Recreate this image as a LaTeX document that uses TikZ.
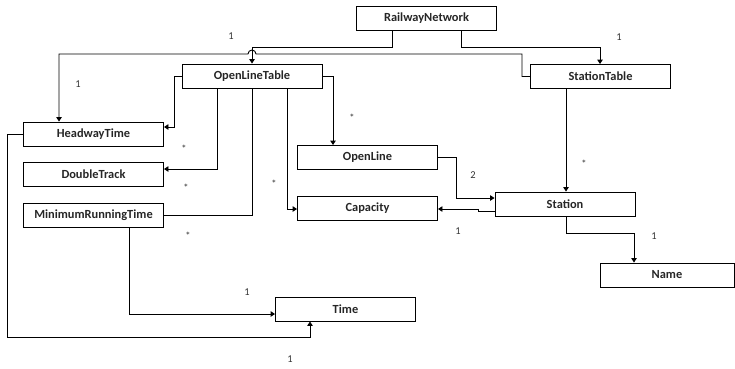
\documentclass[tikz,border=0pt]{standalone}
\usepackage{fontspec}
\setmainfont{Carlito}
\usetikzlibrary{arrows.meta}
\begin{document}
\begin{tikzpicture}[x=1pt,y=-1pt,
  box/.style={draw=black,line width=0.9pt,rectangle,inner sep=0pt,
    minimum width=140pt,minimum height=24pt,
    font=\fontsize{12.4}{14}\selectfont\bfseries,text=black!85},
  arr/.style={draw=black,line width=0.9pt,-{Triangle[length=4.5pt,width=5.5pt]}},
  con/.style={draw=black,line width=0.9pt},
  mult/.style={font=\fontsize{10.5}{12}\selectfont,text=black!80,inner sep=0pt}]
\useasboundingbox (0,0) rectangle (735,368);

% classes
\node[box] (rn)  at (426.5,18)  {RailwayNetwork};
\node[box] (olt) at (252,76)    {OpenLineTable};
\node[box] (st)  at (600.5,76.5){StationTable};
\node[box] (ht)  at (93.5,134)  {HeadwayTime};
\node[box] (dt)  at (93.5,174.5){DoubleTrack};
\node[box] (mrt) at (93.5,215)  {MinimumRunningTime};
\node[box] (ol)  at (367.5,157.5){OpenLine};
\node[box] (cap) at (367.5,208.5){Capacity};
\node[box] (sta) at (565,204)   {Station};
\node[box,minimum width=134pt] (nm) at (667,275) {Name};
\node[box] (tm)  at (345.5,309) {Time};

% associations
\draw[arr] (392,0 |- rn.south) -- (392,47) -- (252,47) -- (252,0 |- olt.north);
\draw[arr] (461,0 |- rn.south) -- (461,47) -- (600,47) -- (600,0 |- st.north);
\draw[arr] (st.west) -- (522,0 |- st.west) -- (522,54) -- (256,54)
  arc (0:-180:4) -- (59,54) -- (59,0 |- ht.north);
\draw[arr] (olt.west) -- (174,0 |- olt.west) -- (174,127) -- (ht.east |- 0,127);
\draw[arr] (217,0 |- olt.south) -- (217,169) -- (dt.east |- 0,169);
\draw[con] (252,0 |- olt.south) -- (252,215) -- (mrt.east);
\draw[arr] (287,0 |- olt.south) -- (287,209) -- (cap.west |- 0,209);
\draw[arr] (olt.east) -- (333,0 |- olt.east) -- (333,0 |- ol.north);
\draw[arr] (ol.east) -- (456,0 |- ol.east) -- (456,198) -- (sta.west |- 0,198);
\draw[arr] (566,0 |- st.south) -- (566,0 |- sta.north);
\draw[arr] (sta.west |- 0,211) -- (478,211) -- (478,209) -- (cap.east |- 0,209);
\draw[arr] (566,0 |- sta.south) -- (566,233) -- (634,233) -- (634,0 |- nm.north);
\draw[arr] (129,0 |- mrt.south) -- (129,314) -- (tm.west |- 0,314);
\draw[arr] (ht.west) -- (7,0 |- ht.west) -- (7,337) -- (310,337) -- (310,0 |- tm.south);

% multiplicities
\node[mult] (m1)  at (231,36)  {1};
\node[mult] (m2)  at (619,37)  {1};
\node[mult] (m3)  at (78,84)   {1};
\node[mult] (m4)  at (352,118) {*};
\node[mult] (m5)  at (184,149) {*};
\node[mult] (m6)  at (186,188) {*};
\node[mult] (m7)  at (274,184) {*};
\node[mult] (m8)  at (188,236) {*};
\node[mult] (m9)  at (584,164) {*};
\node[mult] (m10) at (473,175) {2};
\node[mult] (m11) at (458,231) {1};
\node[mult] (m12) at (654,236) {1};
\node[mult] (m13) at (247,292) {1};
\node[mult] (m14) at (290,359) {1};
\end{tikzpicture}
\end{document}
